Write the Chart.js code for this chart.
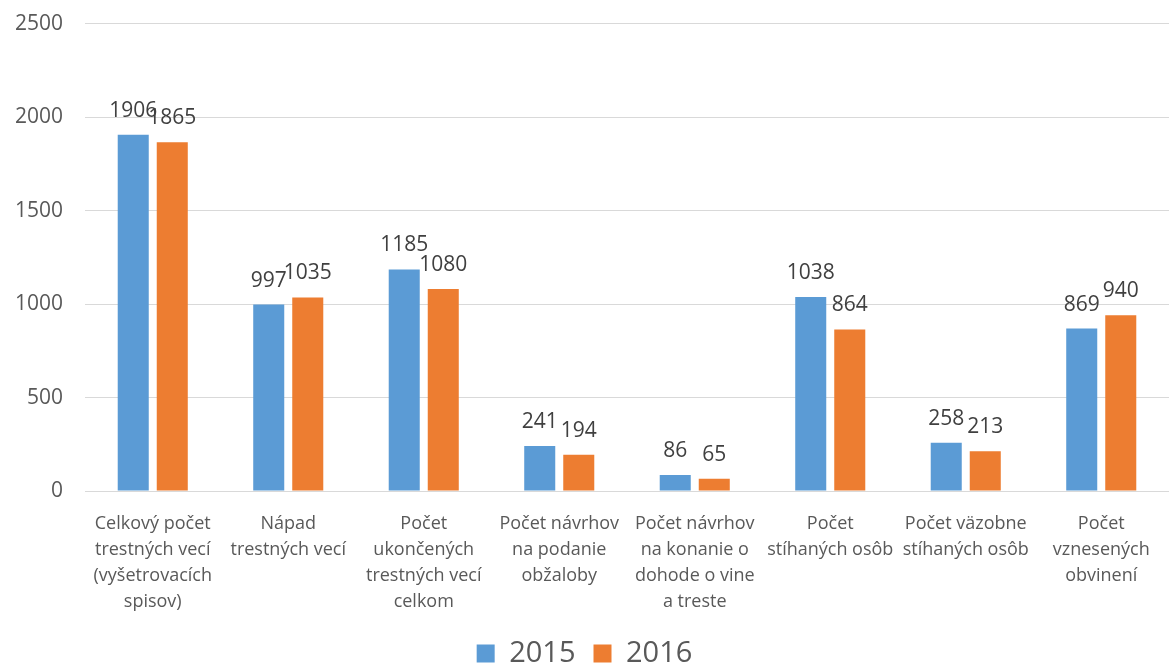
<!DOCTYPE html>
<html>
<head>
<meta charset="utf-8">
<script src="https://cdn.jsdelivr.net/npm/chart.js@4/dist/chart.umd.min.js"></script>
<style>
  html, body { margin: 0; padding: 0; background: #fff; }
  #wrap { width: 1169px; height: 664px; }
</style>
</head>
<body>
<div id="wrap"><canvas id="myChart"></canvas></div>
<script>
const categories = [
    ["Celkový počet", "trestných vecí", "(vyšetrovacích", "spisov)"],
    ["Nápad", "trestných vecí"],
    ["Počet", "ukončených", "trestných vecí", "celkom"],
    ["Počet návrhov", "na podanie", "obžaloby"],
    ["Počet návrhov", "na konanie o", "dohode o vine", "a treste"],
    ["Počet", "stíhaných osôb"],
    ["Počet väzobne", "stíhaných osôb"],
    ["Počet", "vznesených", "obvinení"]
];
const values2015 = [1906, 997, 1185, 241, 86, 1038, 258, 869];
const values2016 = [1865, 1035, 1080, 194, 65, 864, 213, 940];
const yTicks = [0, 500, 1000, 1500, 2000, 2500];

const fontFamily = "'Open Sans', 'Noto Sans', sans-serif";

// draws the numbers above each bar
const valueLabels = {
    id: "valueLabels",
    afterDatasetsDraw(chart) {
        const ctx = chart.ctx;
        ctx.save();
        ctx.font = "21px " + fontFamily;
        ctx.fillStyle = "#404040";
        ctx.textAlign = "center";
        ctx.textBaseline = "alphabetic";
        chart.data.datasets.forEach((ds, i) => {
            chart.getDatasetMeta(i).data.forEach((bar, j) => {
                ctx.fillText(ds.data[j], bar.x, bar.y - 18);
            });
        });
        ctx.restore();
    }
};

var ctx = document.getElementById("myChart").getContext("2d");
var myChart = new Chart(ctx, {
    type: "bar",
    data: {
        labels: categories,
        datasets: [{
            label: "2015",
            data: values2015,
            backgroundColor: "#5b9bd5",
            categoryPercentage: 0.576,
            barPercentage: 0.795,
        }, {
            label: "2016",
            data: values2016,
            backgroundColor: "#ed7d31",
            categoryPercentage: 0.576,
            barPercentage: 0.795,
        }],
    },
    options: {
        responsive: true,
        maintainAspectRatio: false,
        animation: false,
        layout: { padding: { top: 0, right: 0, left: 0, bottom: -14 } },
        scales: {
            x: {
                grid: { display: false },
                border: { color: "#d9d9d9", width: 1 },
                ticks: {
                    color: "#595959",
                    font: { size: 18, family: fontFamily, lineHeight: 1.44 },
                    padding: 12,
                    maxRotation: 0,
                    autoSkip: false
                },
                afterFit(scale) { scale.height = 130; }
            },
            y: {
                min: 0,
                max: 2500,
                afterBuildTicks(scale) { scale.ticks = yTicks.map(v => ({ value: v })); },
                grid: { color: "#d9d9d9", drawTicks: true, tickLength: 11, tickColor: "rgba(0,0,0,0)" },
                border: { display: false },
                ticks: {
                    color: "#595959",
                    font: { size: 21, family: fontFamily },
                    padding: 11,
                    callback: (v) => String(v)
                },
                afterFit(scale) { scale.width = 85; }
            }
        },
        plugins: {
            legend: {
                position: "bottom",
                labels: {
                    color: "#595959",
                    font: { size: 29, family: fontFamily },
                    boxWidth: 18,
                    boxHeight: 18,
                    padding: 18
                }
            },
            tooltip: { enabled: false }
        }
    },
    plugins: [valueLabels]
});
</script>
</body>
</html>
